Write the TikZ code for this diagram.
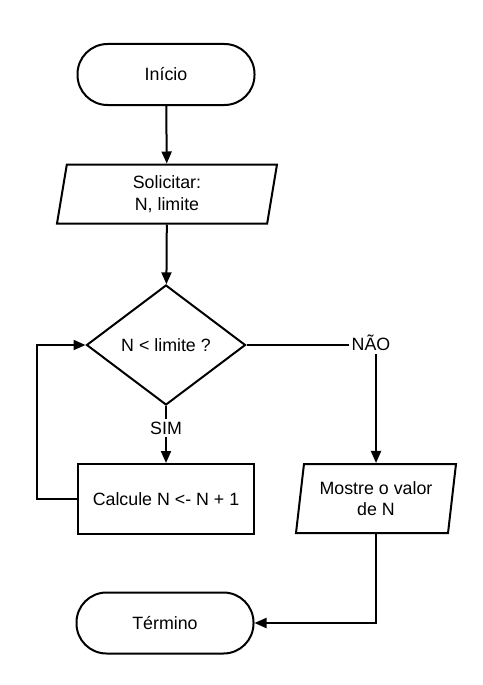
\documentclass[tikz,border=0pt]{standalone}
\usepackage{fontspec}
\setmainfont{Liberation Sans}
\usetikzlibrary{shapes.geometric,arrows.meta}

\begin{document}
\begin{tikzpicture}[x=1pt,y=-1pt,line width=2pt,
        font=\fontsize{17.8}{21.5}\selectfont,
        >={Triangle[length=12pt,width=10pt]},
        terminal/.style={draw,rectangle,rounded corners=30pt,minimum width=177pt,minimum height=61pt},
        entrada/.style={draw,trapezium,trapezium stretches body=true,align=center,inner sep=0pt},
        decisao/.style={draw,diamond,minimum width=159pt,minimum height=120pt,inner sep=0pt},
        processo/.style={draw,rectangle,minimum width=176pt,minimum height=70pt},
        rotulo/.style={fill=white,inner sep=2pt}]
        \useasboundingbox (0,0) rectangle (482,685);

        \coordinate (A) at (166,74.5);
        \coordinate (B) at (167,194);
        \coordinate (C) at (166,345);
        \coordinate (D) at (166,499);
        \coordinate (E) at (376,498.5);
        \coordinate (F) at (165,623);
        \coordinate (LOOP) at (37,499);

        \node [terminal] (INI) at (A) {Início};
        \node [entrada,trapezium left angle=75,trapezium right angle=105,
               minimum width=220pt,minimum height=59pt] (SOL) at (B) {Solicitar:\\N, limite};
        \node [decisao] (TESTE) at (C) {N < limite ?};
        \node [processo] (CALC) at (D) {Calcule N <- N + 1};
        \node [entrada,trapezium left angle=77,trapezium right angle=103,
               minimum width=160pt,minimum height=69pt] (MOSTRE) at (E) {Mostre o valor\\de N};
        \node [terminal] (FIM) at (F) {Término};

        \node [rotulo] (SIM) at (166,428) {SIM};
        \node [rotulo] (NAO) at (371,343) {NÃO};

        \draw [->] (INI) -- (SOL);
        \draw [->] (SOL) -- (TESTE);
        \draw (TESTE.south) -- (SIM);
        \draw [->] (SIM) -- (CALC);
        \draw (TESTE.east) -- (NAO.west |- TESTE.east);
        \draw [->] (MOSTRE.north |- NAO.south) -- (MOSTRE.north);
        \draw [->] (CALC.west) -- (LOOP) |- (TESTE.west);
        \draw [->] (MOSTRE.south) |- (FIM.east);
    \end{tikzpicture}
\end{document}
